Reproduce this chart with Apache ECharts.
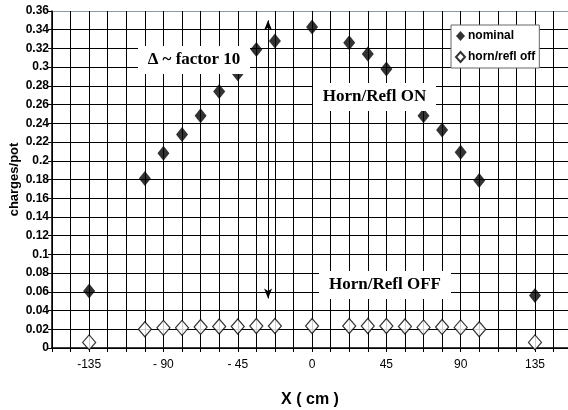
<!DOCTYPE html>
<html><head><meta charset="utf-8">
<script src="https://cdn.jsdelivr.net/npm/echarts@6/dist/echarts.min.js"></script>
<style>html,body{margin:0;padding:0;background:#fff}#c{width:568px;height:410px}</style>
</head><body><div id="c"></div>
<script>
// ---- data ----
const xPositions = [-135,-101.25,-90,-78.75,-67.5,-56.25,-45,-33.75,-22.5,0,22.5,33.75,45,56.25,67.5,78.75,90,101.25,135];
const nominal    = [0.061,0.181,0.208,0.228,0.248,0.274,0.293,0.319,0.328,0.343,0.326,0.314,0.298,0.272,0.248,0.233,0.209,0.179,0.056];
const hornOff    = [0.006,0.020,0.0215,0.0215,0.0225,0.023,0.023,0.0235,0.0235,0.0235,0.0235,0.0235,0.0235,0.023,0.022,0.0225,0.022,0.020,0.006];
const xTickValues = [-135,-90,-45,0,45,90,135];
const xTickLabels = ['-135','- 90','- 45','0','45','90','135'];
const seriesNames = ['nominal','horn/refl off'];
const arrowX = -26.65, arrowTop = 0.350, arrowBottom = 0.053;

const chart = echarts.init(document.getElementById('c'));
const sans = 'Liberation Sans, Arial, sans-serif';
const serif = 'Liberation Serif, Times New Roman, serif';
const ySplitColors = [];
for (let i = 0; i < 18; i++) ySplitColors.push('#000');
ySplitColors.push('#8c9ca4');

function box(x, y, w, h, text, cx, cy) {
  return [
    {type:'rect', z:50, shape:{x:x, y:y, width:w, height:h}, style:{fill:'#fff'}},
    {type:'text', z:51, x:cx, y:cy, style:{text:text, font:'bold 17px ' + serif, fill:'#000', align:'center', verticalAlign:'middle'}}
  ];
}

chart.setOption({
  animation:false,
  backgroundColor:'#fff',
  grid:{left:52, top:11, right:0, bottom:62, containLabel:false, outerBoundsMode:'none'},
  xAxis:{
    type:'value', min:-157.5, max:155, interval:11.25,
    name:'X ( cm )', nameLocation:'middle', nameGap:44, nameMoveOverlap:false,
    nameTextStyle:{fontFamily:sans, fontWeight:'bold', fontSize:16, color:'#000'},
    axisLine:{show:true, onZero:false, lineStyle:{color:'#000', width:1.5}},
    axisTick:{show:true, inside:false, length:4, lineStyle:{color:'#000'}},
    axisLabel:{margin:11, fontFamily:sans, fontSize:12, color:'#000', showMinLabel:true, showMaxLabel:true,
      formatter:function(v){
        for (let i = 0; i < xTickValues.length; i++) if (Math.abs(v - xTickValues[i]) < 0.01) return xTickLabels[i];
        return '';
      }},
    splitLine:{show:true, lineStyle:{color:'#000', width:1}}
  },
  yAxis:{
    type:'value', min:0, max:0.36, interval:0.02,
    name:'charges/pot', nameLocation:'middle', nameGap:31, nameRotate:90, nameMoveOverlap:false,
    nameTextStyle:{fontFamily:sans, fontWeight:'bold', fontSize:13, color:'#000'},
    axisLine:{show:true, onZero:false, lineStyle:{color:'#000', width:1.5}},
    axisTick:{show:true, inside:false, length:4, lineStyle:{color:'#000'}},
    axisLabel:{margin:3, fontFamily:sans, fontWeight:'bold', fontSize:12, color:'#000'},
    splitLine:{show:true, lineStyle:{color:ySplitColors, width:1}}
  },
  legend:{
    orient:'vertical', left:451, top:25,
    data:[{name:seriesNames[0], icon:'diamond'},{name:seriesNames[1], icon:'diamond'}],
    itemWidth:9, itemHeight:10, itemGap:9,
    padding:[5,4,5,4],
    backgroundColor:'#fff', borderColor:'#666', borderWidth:1, borderRadius:0,
    textStyle:{fontFamily:sans, fontWeight:'bold', fontSize:12, color:'#000', padding:[0,0,0,-2]},
    z:60
  },
  series:[
    {
      name:seriesNames[0], type:'scatter', symbol:'diamond', symbolSize:[12,15],
      itemStyle:{color:'#000'},
      data:xPositions.map((x,i)=>[x, nominal[i]]),
      markLine:{
        silent:true, symbol:['arrow','arrow'], symbolSize:[6,10],
        label:{show:false}, lineStyle:{color:'#000', width:1, type:'solid'},
        data:[[{coord:[arrowX, arrowTop]},{coord:[arrowX, arrowBottom]}]]
      }
    },
    {
      name:seriesNames[1], type:'scatter', symbol:'diamond', symbolSize:[13,15],
      itemStyle:{color:'#fff', borderColor:'#000', borderWidth:1.2},
      data:xPositions.map((x,i)=>[x, hornOff[i]])
    }
  ],
  graphic:[].concat(
    box(138, 46, 112, 28, 'Δ ~ factor 10', 194, 60),
    box(313, 83, 123, 28, 'Horn/Refl ON', 374.5, 97),
    box(319, 271, 132, 28, 'Horn/Refl OFF', 385, 285)
  )
});
</script>
</body></html>
